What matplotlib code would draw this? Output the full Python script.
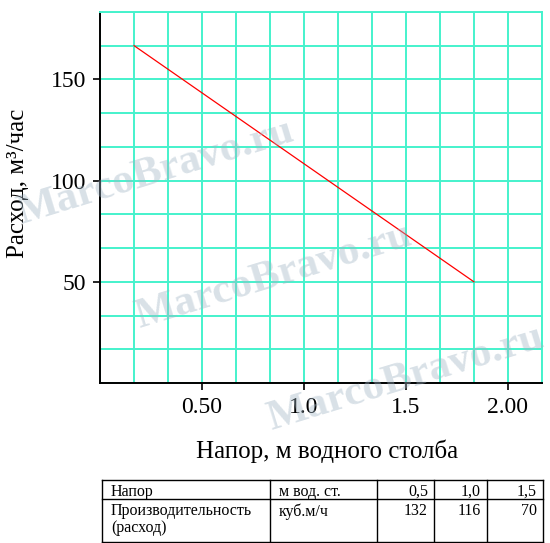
import matplotlib
matplotlib.use("Agg")
import matplotlib.pyplot as plt
from matplotlib.ticker import MultipleLocator, FixedLocator

plt.rcParams['font.family'] = ['Liberation Serif', 'DejaVu Serif']

# data
head = [0.167, 1.833]          # напор, м
flow = [166.7, 50.0]           # расход, м3/час
xticks = [0.5, 1.0, 1.5, 2.0]
xticklabels = ["0.50", "1.0", "1.5", "2.00"]
yticks = [50, 100, 150]

table_rows = [
    ["Напор", "м вод. ст.", "0,5", "1,0", "1,5"],
    ["Производительность\n(расход)", "куб.м/ч", "132", "116", "70"],
]

grid_col = "#45f2cc"

fig = plt.figure(figsize=(5.5, 5.43), dpi=100)
ax = fig.add_axes([100/550, 1-383/543, 442/550, 371/543])

ax.set_xlim(0, 13/6)
ax.set_ylim(0, 550/3)

##### grid ##########
ax.xaxis.set_minor_locator(MultipleLocator(1/6))
ax.yaxis.set_minor_locator(MultipleLocator(50/3))
ax.grid(which="both", color=grid_col, lw=1.4)
ax.tick_params(which="minor", length=0)
ax.set_axisbelow(True)

ax.plot(head, flow, color="red", lw=0.9)

ax.xaxis.set_major_locator(FixedLocator(xticks))
ax.set_xticklabels(xticklabels)
ax.set_yticks(yticks)
ax.tick_params(which="major", direction="out", length=5, width=1.2, labelsize=17, pad=5)

for s in ["top", "right"]:
    ax.spines[s].set_color(grid_col)
    ax.spines[s].set_linewidth(1.4)
for s in ["left", "bottom"]:
    ax.spines[s].set_linewidth(1.4)

fig.text(18/550, 1-183/543, "Расход, м³/час", rotation=90, fontsize=18,
         ha="center", va="center")
fig.text(327/550, 1-451/543, "Напор, м водного столба", fontsize=18,
         ha="center", va="center")

##### overlay in pixel coords: table and watermark ########
ov = fig.add_axes([0, 0, 1, 1], zorder=5)
ov.set_xlim(0, 550)
ov.set_ylim(543, 0)
ov.axis("off")
ov.patch.set_alpha(0)

cols = [102, 270, 377, 434, 487, 543]
rows = [480, 499, 542]
for xc in cols:
    ov.plot([xc, xc], [rows[0], rows[-1]], color="black", lw=1)
for yr in rows:
    ov.plot([cols[0], cols[-1]], [yr, yr], color="black", lw=1)

for r, row in enumerate(table_rows):
    ytop = rows[r] + 4
    for c, txt in enumerate(row):
        if c < 2:
            ov.text(cols[c] + 9, ytop, txt, fontsize=11.5, ha="left", va="top",
                    linespacing=1.1)
        else:
            ov.text(cols[c+1] - 6, ytop, txt, fontsize=11.5, ha="right", va="top")

for cx, cy in [(155, 172), (273, 276), (405, 378)]:
    ov.text(cx, cy, "MarcoBravo.ru", fontsize=31, color="#9fb4c4", alpha=0.4,
            rotation=17, ha="center", va="center", fontweight="bold")

fig.savefig("out.png", dpi=100)
